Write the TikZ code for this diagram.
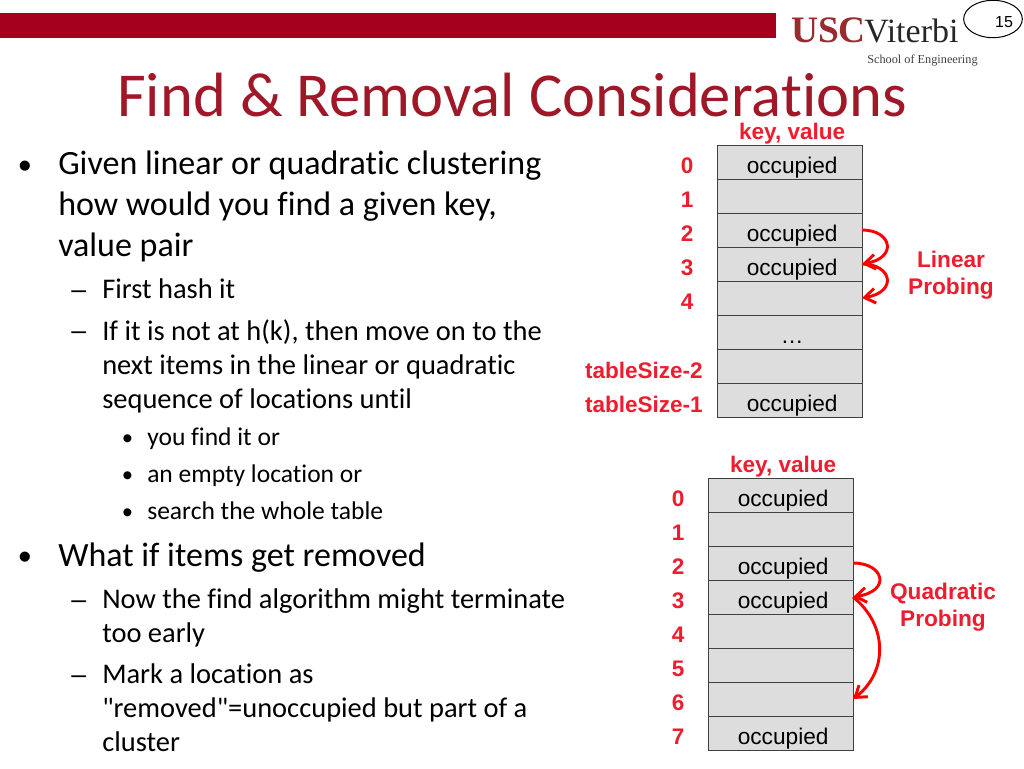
\documentclass[tikz,border=0pt]{standalone}
\usepackage{fontspec}
\newfontfamily\bodyfont[Ligatures=NoCommon]{Carlito}
\newfontfamily\arialfont{Liberation Sans}
\newfontfamily\logofont{Liberation Serif}
\usetikzlibrary{arrows.meta,positioning,shapes.geometric}
\definecolor{uscred}{HTML}{A6001F}
\definecolor{logored}{HTML}{9A2A2E}
\definecolor{titlered}{HTML}{A01828}
\definecolor{probered}{HTML}{EE1C2E}
\definecolor{cellgray}{HTML}{DDDDDD}

\begin{document}
\begin{tikzpicture}[x=0.75pt,y=-0.75pt,node distance=0pt,
  cell/.style={draw=black!75,fill=cellgray,line width=0.75pt,minimum width=108.75pt,minimum height=25.5pt,inner sep=0pt,outer sep=0pt,font=\arialfont\fontsize{17}{20}\selectfont,text height=16.5pt,text depth=0pt},
  idx/.style={text=probered,inner sep=0pt,yshift=-3pt,font=\arialfont\bfseries\fontsize{16.9}{20}\selectfont},
  probe/.style={text=probered,inner sep=0pt,align=center,font=\arialfont\bfseries\fontsize{17}{20.5}\selectfont},
  hop/.style={draw=red,line width=2.2pt,-{Straight Barb[length=8pt,width=11pt]}},
  lone/.style={anchor=north west,inner sep=0pt,align=left,font=\bodyfont\fontsize{25.5}{30.75}\selectfont},
  ltwo/.style={anchor=north west,inner sep=0pt,align=left,font=\bodyfont\fontsize{21.35}{25.5}\selectfont},
  lthree/.style={anchor=north west,inner sep=0pt,align=left,font=\bodyfont\fontsize{19.15}{22}\selectfont},
  bigdot/.style={anchor=base west,inner sep=0pt,font=\arialfont\fontsize{28}{30}\selectfont},
  endash/.style={anchor=base west,inner sep=0pt,font=\arialfont\fontsize{20}{24}\selectfont},
  smalldot/.style={anchor=base west,inner sep=0pt,font=\arialfont\fontsize{22}{24}\selectfont}]

  \useasboundingbox (0,0) rectangle (1024,768);

  % header
  \fill[uscred] (0,13) rectangle (776,38);
  \node[draw=black,line width=0.75pt,ellipse,minimum width=44pt,minimum height=28pt,inner sep=0pt] (page) at (993,19) {};
  \node[inner sep=0pt,font=\arialfont\fontsize{12}{14}\selectfont] (pagenum) at (1004,22) {15};
  \node[inner sep=0pt,anchor=base west,text=logored,font=\logofont\bfseries\fontsize{28}{34}\selectfont] (usc) at (791,42) {USC};
  \node[inner sep=0pt,anchor=base west,text=black!85,font=\logofont\fontsize{25.5}{34}\selectfont] (viterbi) at (864,42) {Viterbi};
  \node[inner sep=0pt,anchor=base west,text=black!75,font=\logofont\fontsize{9.2}{11}\selectfont] (school) at (867,63) {School of Engineering};

  \node[inner sep=0pt,anchor=base west,text=titlered,font=\bodyfont\fontsize{46.9}{50}\selectfont] (title) at (117,116) {Find \& Removal Considerations};

  % text
  \node[bigdot] (b1) at (18,178) {•};
  \node[lone] (t1) at (58,151) {Given linear or quadratic clustering\\how would you find a given key,\\value pair};
  \node[endash] (d1) at (71,298) {–};
  \node[ltwo] (t2) at (102,278) {First hash it};
  \node[endash] (d2) at (71,339) {–};
  \node[ltwo] (t3) at (102,319) {If it is not at h(k), then move on to the\\next items in the linear or quadratic\\sequence of locations until};
  \node[smalldot] (s1) at (122,448) {•};
  \node[lthree] (t4) at (147,427) {you find it or};
  \node[smalldot] (s2) at (122,485) {•};
  \node[lthree] (t5) at (147,464) {an empty location or};
  \node[smalldot] (s3) at (122,522) {•};
  \node[lthree] (t6) at (147,501) {search the whole table};
  \node[bigdot] (b2) at (18,569) {•};
  \node[lone] (t7) at (58,543) {What if items get removed};
  \node[endash] (d3) at (71,608) {–};
  \node[ltwo] (t8) at (102,588) {Now the find algorithm might terminate\\too early};
  \node[endash] (d4) at (71,683) {–};
  \node[ltwo] (t9) at (102,663) {Mark a location as\\"removed"=unoccupied but part of a\\cluster};

  % linear table
  \node[cell] (a0) at (789.5,162) {\hspace{4pt}occupied};
  \node[cell] (a1) [below=of a0] {};
  \node[cell] (a2) [below=of a1] {\hspace{4pt}occupied};
  \node[cell] (a3) [below=of a2] {\hspace{4pt}occupied};
  \node[cell] (a4) [below=of a3] {};
  \node[cell] (a5) [below=of a4] {\hspace{4pt}…};
  \node[cell] (a6) [below=of a5] {};
  \node[cell] (a7) [below=of a6] {\hspace{4pt}occupied};

  \node[idx] (keya) [above=3.7pt of a0,xshift=2pt] {key, value};
  \node[idx] (ia0) [left=17.5pt of a0] {0};
  \node[idx] (ia1) [left=17.5pt of a1] {1};
  \node[idx] (ia2) [left=17.5pt of a2] {2};
  \node[idx] (ia3) [left=17.5pt of a3] {3};
  \node[idx] (ia4) [left=17.5pt of a4] {4};
  \node[idx] (ia6) [left=10.5pt of a6] {tableSize-2};
  \node[idx] (ia7) [left=10.5pt of a7] {tableSize-1};
  \node[probe] (linear) at (951,275) {Linear\\Probing};

  \draw[hop] (a2.east) .. controls (892,230) and (898,258) .. (a3.east);
  \draw[hop] (a3.east) .. controls (892,264) and (898,292) .. (a4.east);

  % quadratic table
  \node[cell] (c0) at (780.5,495) {\hspace{4pt}occupied};
  \node[cell] (c1) [below=of c0] {};
  \node[cell] (c2) [below=of c1] {\hspace{4pt}occupied};
  \node[cell] (c3) [below=of c2] {\hspace{4pt}occupied};
  \node[cell] (c4) [below=of c3] {};
  \node[cell] (c5) [below=of c4] {};
  \node[cell] (c6) [below=of c5] {};
  \node[cell] (c7) [below=of c6] {\hspace{4pt}occupied};

  \node[idx] (keyc) [above=3.7pt of c0,xshift=2pt] {key, value};
  \node[idx] (ic0) [left=17.5pt of c0] {0};
  \node[idx] (ic1) [left=17.5pt of c1] {1};
  \node[idx] (ic2) [left=17.5pt of c2] {2};
  \node[idx] (ic3) [left=17.5pt of c3] {3};
  \node[idx] (ic4) [left=17.5pt of c4] {4};
  \node[idx] (ic5) [left=17.5pt of c5] {5};
  \node[idx] (ic6) [left=17.5pt of c6] {6};
  \node[idx] (ic7) [left=17.5pt of c7] {7};
  \node[probe] (quadratic) at (943,607) {Quadratic\\Probing};

  \draw[hop] (c2.east) .. controls (884,563) and (892,591) .. (c3.east);
  \draw[hop] (c3.east) .. controls (888,625) and (888,672) .. (c6.east);

\end{tikzpicture}
\end{document}
